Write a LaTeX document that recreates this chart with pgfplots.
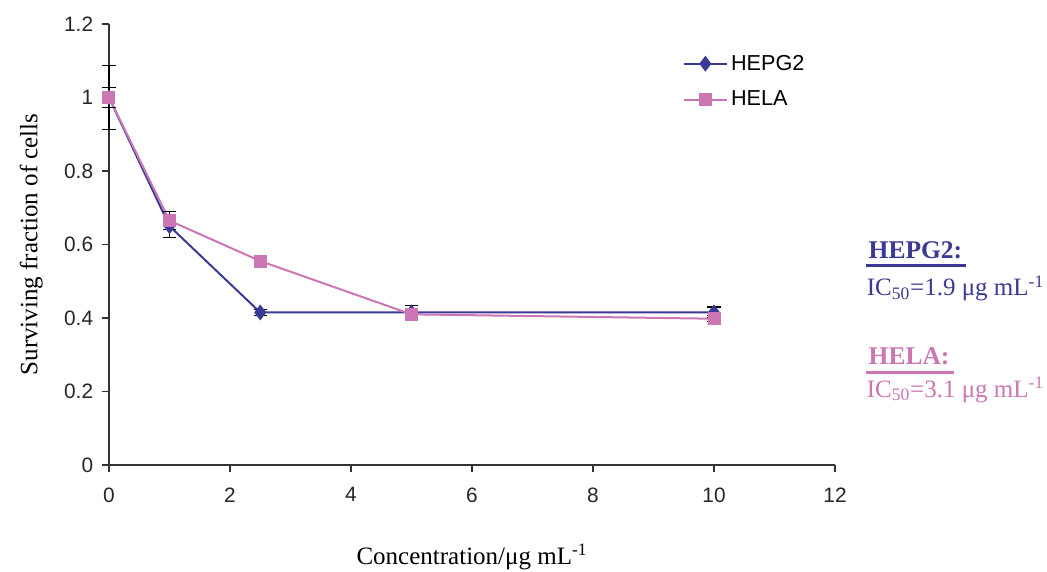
\documentclass[border=0pt]{standalone}
\usepackage{fontspec}
\setmainfont{Liberation Serif}
\newfontfamily\arialfont{Liberation Sans}
\usepackage{pgfplots}
\pgfplotsset{compat=1.18}
\usetikzlibrary{calc}

\definecolor{hepg}{HTML}{3A3A96}
\definecolor{hela}{HTML}{CC77B3}
\definecolor{axisgray}{HTML}{333333}

\begin{document}
\begin{tikzpicture}
% fixed page frame: axis origin sits at (0,0)
\useasboundingbox (-65.4pt,-63.6pt) rectangle (562.8pt,279pt);
\begin{axis}[
    scale only axis,
    width=435.6pt, height=264.6pt,
    xmin=0, xmax=12, ymin=0, ymax=1.2,
    xtick={0,2,...,12},
    ytick={0,0.2,...,1.2},
    axis lines=left,
    axis line style={-, axisgray, line width=0.9pt},
    tick align=outside,
    major tick length=4pt,
    tick style={axisgray, line width=0.8pt},
    /pgf/number format/assume math mode=true,
    /pgf/number format/fixed,
    /pgf/number format/precision=1,
    ticklabel style={font=\arialfont\fontsize{12.5}{14}\selectfont, text=black!85},
    xticklabel style={yshift=-6pt},
    yticklabel style={xshift=-2pt},
    xlabel={Concentration/μg mL\textsuperscript{-1}},
    ylabel={Surviving fraction of cells},
    label style={font=\fontsize{15}{18}\selectfont},
    xlabel style={yshift=-18pt},
    ylabel style={yshift=6pt},
    clip=false,
    legend style={at={(axis cs:9.4,1.135)}, anchor=north west, draw=none, fill=none,
        font=\arialfont\fontsize{13}{15}\selectfont, row sep=7pt},
    legend cell align=left,
    legend image code/.code={\draw[mark repeat=2, mark phase=2] plot coordinates {(0cm,0cm) (0.45cm,0cm) (0.9cm,0cm)};},
    error bars/error bar style={black, line width=0.7pt},
    error bars/error mark options={rotate=90, mark size=4pt, black, line width=0.7pt},
]

% HEPG2
\addplot[hepg, line width=1.2pt, mark=diamond*, mark size=3.8pt,
    mark options={fill=hepg, draw=hepg},
    error bars/.cd, y dir=both, y explicit]
coordinates {
    (0,1.0) +- (0,0.088)
    (1,0.65) +- (0,0.03)
    (2.5,0.415) +- (0,0.008)
    (5,0.415) +- (0,0.02)
    (10,0.415) +- (0,0.015)
};
\addlegendentry{HEPG2}

% HELA
\addplot[hela, line width=1.2pt, mark=square*, mark size=3.3pt,
    mark options={fill=hela, draw=hela},
    error bars/.cd, y dir=both, y explicit]
coordinates {
    (0,1.0) +- (0,0.028)
    (1,0.665) +- (0,0.025)
    (2.5,0.555) +- (0,0.006)
    (5,0.41) +- (0,0.015)
    (10,0.398) +- (0,0.008)
};
\addlegendentry{HELA}

% IC50 notes
\node[anchor=base west, text=hepg, font=\fontsize{15.3}{18}\selectfont\bfseries] (h1) at (axis cs:12.46,0.563) {HEPG2:};
\draw[hepg, line width=1.6pt] ($(h1.base west)+(2pt,-4.5pt)$) -- ($(h1.base east)+(-1pt,-4.5pt)$);
\node[anchor=base west, text=hepg, font=\fontsize{15}{18}\selectfont] at (axis cs:12.43,0.46) {IC\textsubscript{50}=1.9 μg mL\textsuperscript{-1}};
\node[anchor=base west, text=hela, font=\fontsize{15.3}{18}\selectfont\bfseries] (h2) at (axis cs:12.46,0.273) {HELA:};
\draw[hela, line width=1.6pt] ($(h2.base west)+(2pt,-4.5pt)$) -- ($(h2.base east)+(-1pt,-4.5pt)$);
\node[anchor=base west, text=hela, font=\fontsize{15}{18}\selectfont] at (axis cs:12.43,0.185) {IC\textsubscript{50}=3.1 μg mL\textsuperscript{-1}};
\end{axis}
\end{tikzpicture}
\end{document}
